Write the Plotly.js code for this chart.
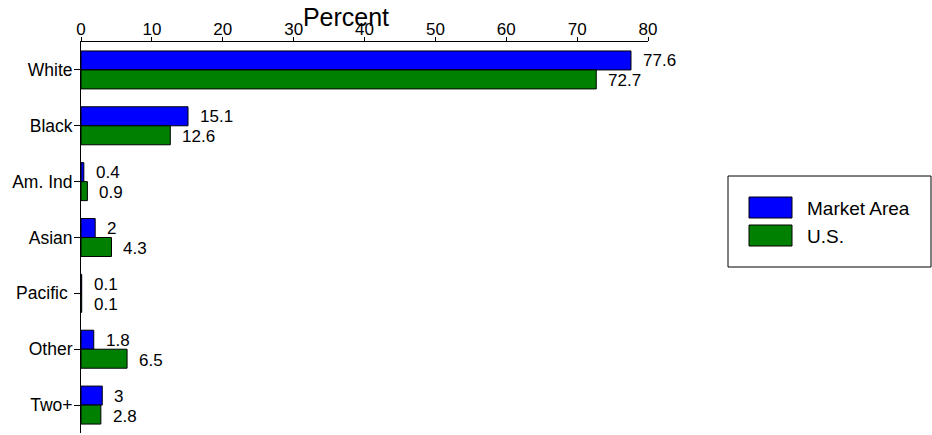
<!DOCTYPE html>
<html>
<head>
<meta charset="utf-8">
<script src="https://cdn.plot.ly/plotly-3.0.1.min.js"></script>
<style>html,body{margin:0;padding:0;background:#fff;}#chart{width:932px;height:435px;}</style>
</head>
<body>
<div id="chart"></div>
<script>
// ---- data ----
const categories = ["White", "Black", "Am. Ind", "Asian", "Pacific ", "Other", "Two+"];
const marketArea = [77.6, 15.1, 0.4, 2, 0.1, 1.8, 3];
const usValues = [72.7, 12.6, 0.9, 4.3, 0.1, 6.5, 2.8];
const seriesNames = ["Market Area", "U.S."];
const seriesColors = ["#0000ff", "#008000"];
const xTickVals = [0, 10, 20, 30, 40, 50, 60, 70, 80];

// ---- layout helpers ----
const W = 932, H = 435;
const M = {l: 81, r: 284, t: 42, b: 2};
const plotW = W - M.l - M.r, plotH = H - M.t - M.b;
const px2x = px => (px - M.l) / plotW;
const py2y = py => (H - M.b - py) / plotH;
const FONT = "Arial, 'Liberation Sans', sans-serif";

const seriesValues = [marketArea, usValues];
const traces = seriesValues.map((vals, i) => ({
  type: "bar",
  orientation: "h",
  x: vals,
  y: categories,
  name: seriesNames[i],
  marker: {color: seriesColors[i], line: {color: "#000", width: 1}},
  hoverinfo: "skip",
  showlegend: false
}));

// value labels next to bar ends
const annotations = [];
seriesValues.forEach((vals, i) => {
  vals.forEach((v, j) => {
    annotations.push({
      x: v, y: categories[j], xref: "x", yref: "y",
      text: String(v), showarrow: false,
      xanchor: "left", yanchor: "middle",
      xshift: 10, yshift: i === 0 ? 9 : -11,
      font: {family: FONT, size: 17, color: "#000"}
    });
  });
});

// legend (drawn box with large swatches)
const shapes = [{
  type: "rect", xref: "paper", yref: "paper",
  x0: px2x(728), x1: px2x(931), y0: py2y(267), y1: py2y(176),
  line: {color: "#000", width: 1}, fillcolor: "rgba(0,0,0,0)"
}];
seriesNames.forEach((name, i) => {
  const top = 197 + i * 28;
  shapes.push({
    type: "rect", xref: "paper", yref: "paper",
    x0: px2x(749), x1: px2x(792), y0: py2y(top + 21), y1: py2y(top),
    line: {color: "#000", width: 1}, fillcolor: seriesColors[i]
  });
  annotations.push({
    x: px2x(805), y: py2y(top + 11), xref: "paper", yref: "paper",
    text: name, showarrow: false, xanchor: "left", yanchor: "middle",
    font: {family: FONT, size: 19, color: "#000"}
  });
});

const layout = {
  width: W, height: H,
  margin: M,
  paper_bgcolor: "#fff", plot_bgcolor: "#fff",
  font: {family: FONT, color: "#000"},
  title: {
    text: "Percent", xref: "container", yref: "container",
    x: 346 / W, y: 1 - 17 / H, xanchor: "center", yanchor: "middle",
    font: {family: FONT, size: 25, color: "#000"}
  },
  barmode: "group",
  bargap: 0.32,
  bargroupgap: 0,
  showlegend: false,
  xaxis: {
    side: "top", range: [0, 80], tickvals: xTickVals,
    ticks: "outside", ticklen: 4, tickcolor: "#000",
    ticklabelstandoff: -5,
    showline: true, linecolor: "#000", linewidth: 1,
    showgrid: false, zeroline: false,
    tickfont: {family: FONT, size: 17, color: "#000"}
  },
  yaxis: {
    type: "category", categoryorder: "array", categoryarray: categories,
    range: [6.5, -0.5],
    ticks: "outside", ticklen: 6, tickcolor: "#000",
    ticklabelstandoff: -2,
    showline: true, linecolor: "#000", linewidth: 1,
    showgrid: false, zeroline: false,
    tickfont: {family: FONT, size: 17.5, color: "#000"}
  },
  shapes: shapes,
  annotations: annotations
};

Plotly.newPlot("chart", traces, layout, {displayModeBar: false, staticPlot: true});
</script>
</body>
</html>
